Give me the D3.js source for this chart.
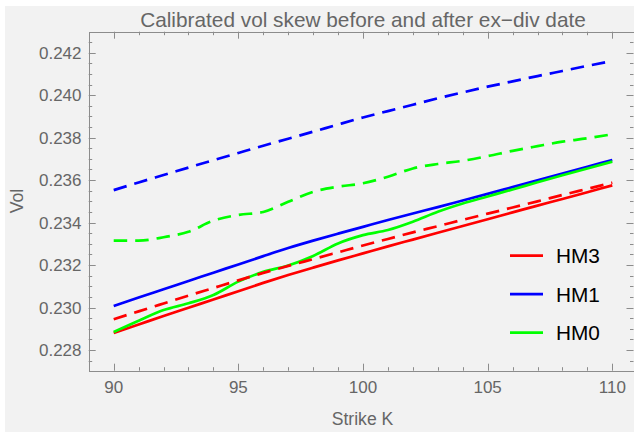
<!DOCTYPE html>
<html>
<head>
<meta charset="utf-8">
<script src="https://cdn.jsdelivr.net/npm/d3@7"></script>
<style>
  html, body { margin: 0; padding: 0; background: #ffffff; }
  svg { display: block; font-family: "Liberation Sans", Arial, sans-serif; }
</style>
</head>
<body>
<svg id="chart" width="634" height="432"></svg>
<script>
const strikes = [90, 91, 92, 93, 94, 95, 96, 97, 98, 99, 100, 101, 102, 103, 104, 105, 106, 107, 108, 109, 110];

const hm3Solid  = [0.22880, 0.22920, 0.22960, 0.22999, 0.23038, 0.23077, 0.23116, 0.23153, 0.23188, 0.23222, 0.23255, 0.23288, 0.23320, 0.23352, 0.23384, 0.23416, 0.23448, 0.23480, 0.23511, 0.23543, 0.23575];
const hm3Dashed = [0.22945, 0.22982, 0.23019, 0.23056, 0.23092, 0.23128, 0.23163, 0.23196, 0.23228, 0.23260, 0.23292, 0.23323, 0.23354, 0.23383, 0.23413, 0.23442, 0.23471, 0.23500, 0.23530, 0.23559, 0.23588];
const hm1Solid  = [0.23007, 0.23047, 0.23086, 0.23125, 0.23164, 0.23203, 0.23242, 0.23280, 0.23315, 0.23348, 0.23380, 0.23412, 0.23443, 0.23473, 0.23504, 0.23535, 0.23567, 0.23599, 0.23631, 0.23663, 0.23695];
const hm1Dashed = [0.23553, 0.23589, 0.23624, 0.23659, 0.23694, 0.23728, 0.23762, 0.23795, 0.23828, 0.23862, 0.23895, 0.23925, 0.23955, 0.23985, 0.24013, 0.24040, 0.24065, 0.24090, 0.24114, 0.24138, 0.24161];
const hm0Solid  = [0.22885, 0.22938, 0.22988, 0.23020, 0.23059, 0.23122, 0.23168, 0.23198, 0.23243, 0.23302, 0.23341, 0.23365, 0.23404, 0.23451, 0.23490, 0.23523, 0.23556, 0.23590, 0.23623, 0.23655, 0.23687];
const hm0Dashed = [0.23315, 0.23315, 0.23331, 0.23357, 0.23409, 0.23436, 0.23450, 0.23498, 0.23545, 0.23569, 0.23585, 0.23616, 0.23655, 0.23676, 0.23691, 0.23713, 0.23738, 0.23760, 0.23781, 0.23797, 0.23816];

const legendLabels = ["HM3", "HM1", "HM0"];
const xMajorTicks = [90, 95, 100, 105, 110];
const yMajorTicks = [0.228, 0.230, 0.232, 0.234, 0.236, 0.238, 0.240, 0.242];

const titleText = "Calibrated vol skew before and after ex\u2212div date";
const xLabel = "Strike K";
const yLabel = "Vol";

// ---- layout ----
const W = 634, H = 432;
const frame = { left: 88.7, right: 635, top: 31.7, bottom: 370.7 };
const colors = { HM3: "#ff0000", HM1: "#0000ff", HM0: "#00ff00" };
const axisColor = "#8c8c8c";
const textColor = "#666666";

const x = d3.scaleLinear().domain([90, 110]).range([113.7, 612.3]);
const y = d3.scaleLinear().domain([0.228, 0.242]).range([350, 52.7]);

const svg = d3.select("#chart");

svg.append("rect").attr("x", 5).attr("y", 6).attr("width", W - 5).attr("height", H - 6).attr("fill", "#f2f2f2");

// clip for plot
svg.append("defs").append("clipPath").attr("id", "clip")
  .append("rect").attr("x", frame.left).attr("y", frame.top)
  .attr("width", frame.right - frame.left).attr("height", frame.bottom - frame.top);

// minor ticks
const xMinor = d3.range(91, 110).filter(v => !xMajorTicks.includes(v));
const yMinor = d3.range(0, 31).map(i => +(0.2275 + i * 0.0005).toFixed(4)).filter(v => !yMajorTicks.some(m => Math.abs(m - v) < 1e-9) && v < 0.2428);

const gTicks = svg.append("g").attr("stroke", axisColor).attr("stroke-width", 1);
function vTick(xp, yp, len) {
  gTicks.append("line").attr("x1", xp).attr("x2", xp).attr("y1", yp).attr("y2", yp + len);
}
function hTick(xp, yp, len) {
  gTicks.append("line").attr("x1", xp).attr("x2", xp + len).attr("y1", yp).attr("y2", yp);
}
xMajorTicks.forEach(v => { const xp = Math.round(x(v)) + 0.5; vTick(xp, frame.bottom, -7); vTick(xp, frame.top, 7); });
xMinor.forEach(v => { const xp = Math.round(x(v)) + 0.5; vTick(xp, frame.bottom, -3.5); vTick(xp, frame.top, 3.5); });
yMajorTicks.forEach(v => { const yp = Math.round(y(v)) + 0.5; hTick(frame.left, yp, 7); hTick(W - 0.5, yp, -7); });
yMinor.forEach(v => { const yp = Math.round(y(v)) + 0.5; hTick(frame.left, yp, 3.5); hTick(W - 0.5, yp, -3.5); });

// frame
svg.append("rect").attr("x", Math.round(frame.left) + 0.5).attr("y", Math.round(frame.top) + 0.5)
  .attr("width", frame.right - frame.left).attr("height", Math.round(frame.bottom) - Math.round(frame.top))
  .attr("fill", "none").attr("stroke", axisColor).attr("stroke-width", 1);

// tick labels
svg.append("g").selectAll("text").data(xMajorTicks).join("text")
  .attr("x", d => x(d)).attr("y", 392.5).attr("text-anchor", "middle")
  .attr("font-size", 17).attr("fill", textColor).text(d => d);
svg.append("g").selectAll("text").data(yMajorTicks).join("text")
  .attr("x", 81.5).attr("y", d => y(d)).attr("dy", "0.36em").attr("text-anchor", "end")
  .attr("font-size", 17).attr("fill", textColor).text(d => d3.format(".3f")(d));

// titles
svg.append("text").attr("x", 363).attr("y", 26.5).attr("text-anchor", "middle")
  .attr("font-size", 20.8).attr("fill", textColor).text(titleText);
svg.append("text").attr("x", 362.5).attr("y", 425).attr("text-anchor", "middle")
  .attr("font-size", 17.6).attr("fill", textColor).text(xLabel);
svg.append("text").attr("transform", "translate(22.5,201) rotate(-90)").attr("text-anchor", "middle")
  .attr("font-size", 17.6).attr("fill", textColor).text(yLabel);

// series
const series = [
  { name: "HM3", values: hm3Solid, dashed: false },
  { name: "HM1", values: hm1Solid, dashed: false },
  { name: "HM0", values: hm0Solid, dashed: false },
  { name: "HM3", values: hm3Dashed, dashed: true },
  { name: "HM1", values: hm1Dashed, dashed: true },
  { name: "HM0", values: hm0Dashed, dashed: true }
];
const line = d3.line().x((d, i) => x(strikes[i])).y(d => y(d)).curve(d3.curveMonotoneX);
const gLines = svg.append("g").attr("clip-path", "url(#clip)");
series.forEach(s => {
  gLines.append("path").attr("d", line(s.values)).attr("fill", "none")
    .attr("stroke", colors[s.name]).attr("stroke-width", 2.7)
    .attr("stroke-dasharray", s.dashed ? "13.5,8" : null)
    .attr("stroke-linejoin", "round");
});

// legend
const legendY = [255.7, 294.2, 332.7];
const gLeg = svg.append("g");
legendLabels.forEach((lab, i) => {
  gLeg.append("line").attr("x1", 510).attr("x2", 543).attr("y1", legendY[i]).attr("y2", legendY[i])
    .attr("stroke", colors[lab]).attr("stroke-width", 2.7);
  gLeg.append("text").attr("x", 556).attr("y", legendY[i]).attr("dy", "0.36em")
    .attr("font-size", 20.8).attr("fill", "#000000").text(lab);
});
</script>
</body>
</html>
